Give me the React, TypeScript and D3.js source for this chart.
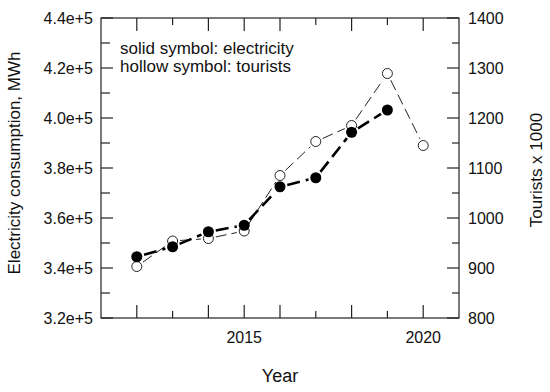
import React from "react";
import * as d3 from "d3";

// values
const years = [2012, 2013, 2014, 2015, 2016, 2017, 2018, 2019];
const electricity = [344500, 348500, 354500, 357100, 372500, 376100, 394300, 403200];
const touristYears = [2012, 2013, 2014, 2015, 2016, 2017, 2018, 2019, 2020];
const tourists = [903, 954, 959, 974, 1085, 1153, 1185, 1289, 1145];

const xTicks = [2012, 2013, 2014, 2015, 2016, 2017, 2018, 2019, 2020];
const shortXTicks = [2013, 2017, 2019];
const xLabels = [2015, 2020];
const leftTicks = [320000, 340000, 360000, 380000, 400000, 420000, 440000];
const leftMinor = [330000, 350000, 370000, 390000, 410000, 430000];
const rightTicks = [800, 900, 1000, 1100, 1200, 1300, 1400];
const rightMinor = [850, 950, 1050, 1150, 1250, 1350];

const W = 550, H = 392;
const left = 101, right = 459, top = 18, bottom = 318;
const font = "Arial, 'Liberation Sans', sans-serif";

// split a polyline into segments that stop short of the markers
function segments(pts: [number, number][], gap: number) {
  const out: string[] = [];
  for (let i = 0; i < pts.length - 1; i++) {
    const [x1, y1] = pts[i];
    const [x2, y2] = pts[i + 1];
    const len = Math.hypot(x2 - x1, y2 - y1);
    const ux = (x2 - x1) / len, uy = (y2 - y1) / len;
    out.push(
      d3.line()([[x1 + ux * gap, y1 + uy * gap], [x2 - ux * gap, y2 - uy * gap]]) || ""
    );
  }
  return out;
}

export default function App() {
  const x = d3.scaleLinear().domain([2011, 2021]).range([left, right]);
  const yL = d3.scaleLinear().domain([320000, 440000]).range([bottom, top]);
  const yR = d3.scaleLinear().domain([800, 1400]).range([bottom, top]);

  const elecPts = electricity.map((v, i) => [x(years[i]), yL(v)] as [number, number]);
  const tourPts = tourists.map((v, i) => [x(touristYears[i]), yR(v)] as [number, number]);

  return (
    <svg width={W} height={H} style={{ position: "absolute", left: 0, top: 0, background: "#fff" }}
      fontFamily={font}>
      <rect x={0} y={0} width={W} height={H} fill="#fff" />
      {/* lines */}
      {segments(tourPts, 7.5).map((d, i) => (
        <path key={"tl" + i} d={d} fill="none" stroke="#222" strokeWidth={1} strokeDasharray="11,5" />
      ))}
      {segments(elecPts, 7.5).map((d, i) => (
        <path key={"el" + i} d={d} fill="none" stroke="#000" strokeWidth={2.6} strokeDasharray="13,6" />
      ))}
      {/* markers */}
      {tourPts.map(([cx, cy], i) => (
        <circle key={"t" + i} cx={cx} cy={cy} r={5} fill="#fff" stroke="#222" strokeWidth={1} />
      ))}
      {elecPts.map(([cx, cy], i) => (
        <circle key={"e" + i} cx={cx} cy={cy} r={5.5} fill="#000" />
      ))}
      {/* frame */}
      <rect x={left} y={top} width={right - left} height={bottom - top} fill="none" stroke="#222" strokeWidth={1.2} />
      {/* x ticks bottom and top */}
      {xTicks.map((t) => {
        const len = shortXTicks.includes(t) ? 7 : 13;
        return (
          <g key={"x" + t}>
            <line x1={x(t)} x2={x(t)} y1={bottom} y2={bottom - len} stroke="#222" strokeWidth={1.2} />
            <line x1={x(t)} x2={x(t)} y1={top} y2={top + len} stroke="#222" strokeWidth={1.2} />
          </g>
        );
      })}
      {xLabels.map((t) => (
        <text key={"xl" + t} x={x(t)} y={bottom + 25} textAnchor="middle" fontSize={16} fill="#111">{t}</text>
      ))}
      {/* left axis */}
      {leftTicks.map((t) => (
        <g key={"l" + t}>
          <line x1={left} x2={left + 12} y1={yL(t)} y2={yL(t)} stroke="#222" strokeWidth={1.2} />
          <text x={left - 8} y={yL(t) + 6} textAnchor="end" fontSize={16} fill="#111">
            {(t / 100000).toFixed(1)}e+5
          </text>
        </g>
      ))}
      {leftMinor.map((t) => (
        <line key={"lm" + t} x1={left} x2={left + 9} y1={yL(t)} y2={yL(t)} stroke="#222" strokeWidth={1.2} />
      ))}
      {/* right axis */}
      {rightTicks.map((t) => (
        <g key={"r" + t}>
          <line x1={right} x2={right - 12} y1={yR(t)} y2={yR(t)} stroke="#222" strokeWidth={1.2} />
          <text x={right + 9} y={yR(t) + 6} textAnchor="start" fontSize={16} fill="#111">{t}</text>
        </g>
      ))}
      {rightMinor.map((t) => (
        <line key={"rm" + t} x1={right} x2={right - 7} y1={yR(t)} y2={yR(t)} stroke="#222" strokeWidth={1.2} />
      ))}
      {/* annotation */}
      <text x={120} y={54} fontSize={17} fill="#111">solid symbol: electricity</text>
      <text x={120} y={72} fontSize={17} fill="#111">hollow symbol: tourists</text>
      {/* axis titles */}
      <text x={(left + right) / 2} y={382} textAnchor="middle" fontSize={18} fill="#111">Year</text>
      <text transform={`translate(20,163) rotate(-90)`} textAnchor="middle" fontSize={17} fill="#111">
        Electricity consumption, MWh
      </text>
      <text transform={`translate(542,170) rotate(-90)`} textAnchor="middle" fontSize={17} fill="#111">
        Tourists x 1000
      </text>
    </svg>
  );
}
